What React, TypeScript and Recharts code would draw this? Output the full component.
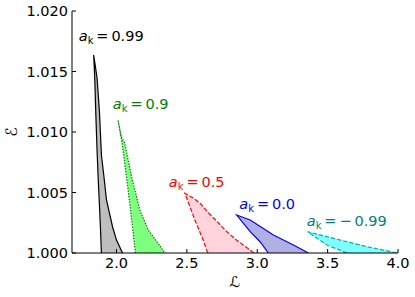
import React from 'react';
import { ComposedChart, Area, XAxis, YAxis, ReferenceDot } from 'recharts';

// outlines: from left foot up the left branch to the cusp, then down the right branch
const blackPts: [number, number][] = [
  [1.893, 1.0], [1.886, 1.00207], [1.879, 1.00397], [1.8705, 1.00603], [1.8619, 1.00851],
  [1.8527, 1.01165], [1.8456, 1.01446], [1.838, 1.01636],
  [1.849, 1.0155], [1.862, 1.01446], [1.879, 1.01165], [1.893, 1.0081], [1.9096, 1.00645],
  [1.929, 1.00438], [1.972, 1.00217], [2.0, 1.00107], [2.043, 1.0],
];
const greenPts: [number, number][] = [
  [2.135, 1.0], [2.0997, 1.00355], [2.071, 1.00631], [2.04, 1.00907], [2.011, 1.01099],
  [2.035, 1.0096], [2.059, 1.00907], [2.107, 1.00631], [2.166, 1.00355], [2.225, 1.0019],
  [2.296, 1.0008], [2.344, 1.0],
];
const redPts: [number, number][] = [
  [2.648, 1.0], [2.616, 1.00107], [2.557, 1.00273], [2.486, 1.00493],
  [2.545, 1.00455], [2.6, 1.00405], [2.65, 1.00335], [2.712, 1.00263], [2.78, 1.0018],
  [2.85, 1.0011], [2.92, 1.0005], [2.977, 1.0],
];
const bluePts: [number, number][] = [
  [3.079, 1.0], [3.02, 1.00093], [2.95, 1.00176], [2.854, 1.00314],
  [2.95, 1.00273], [3.115, 1.00149], [3.257, 1.00066], [3.364, 1.0],
];
const cyanPts: [number, number][] = [
  [3.637, 1.0], [3.495, 1.00066], [3.357, 1.00176],
  [3.542, 1.00121], [3.779, 1.00052], [3.995, 1.0],
];

const spinValues = ['0.99', '0.9', '0.5', '0.0', '\u2212\u20090.99'];
const labelL = [1.732, 1.974, 2.372, 2.873, 3.352];
const labelE = [1.01752, 1.0119, 1.00545, 1.00366, 1.00223];

const xTicks = [2.0, 2.5, 3.0, 3.5, 4.0];
const yTicks = [1.0, 1.005, 1.01, 1.015, 1.02];

const regions = [
  { pts: blackPts, stroke: '#000000', fill: '#bebebe', dash: undefined, text: '#000000' },
  { pts: greenPts, stroke: '#008000', fill: '#7fff7f', dash: '1.4 1.4', text: '#008000' },
  { pts: redPts, stroke: '#ff0000', fill: '#ffd4dc', dash: '4.4 1.9', text: '#ff0000' },
  { pts: bluePts, stroke: '#0000ff', fill: '#b0b0e2', dash: undefined, text: '#0000ff' },
  { pts: cyanPts, stroke: '#00b0b0', fill: '#7fffff', dash: '4.4 1.9', text: '#008080' },
];

const FONT = 'DejaVu Sans';

const rows = (pts: [number, number][]) => pts.map(([L, E]) => ({ L, E }));

function SpinLabel({ cx, cy, value, color }: any) {
  return (
    <text x={cx} y={cy} fill={color} fontFamily={FONT} fontSize={14.5}>
      <tspan fontStyle="italic">a</tspan>
      <tspan fontSize={10} dy={3}>k</tspan>
      <tspan dy={-3}>{'\u2009=\u2009' + value}</tspan>
    </text>
  );
}

export default function App() {
  return (
    <div style={{ position: 'absolute', left: 0, top: 0, background: '#fff' }}>
      <ComposedChart width={415} height={297} margin={{ top: 11, right: 17, bottom: 0, left: 0 }}>
        <XAxis
          dataKey="L" type="number" domain={[1.684, 4]} ticks={xTicks} interval={0} allowDataOverflow
          tickFormatter={(v: number) => v.toFixed(1)} height={44} tickSize={-4} tickMargin={9}
          axisLine={{ stroke: '#000' }} tickLine={{ stroke: '#000' }}
          tick={{ fill: '#000', fontSize: 14.5, fontFamily: FONT }}
          label={({ viewBox }: any) => (
            <text x={viewBox.x + viewBox.width / 2} y={viewBox.y + 34} textAnchor="middle"
              fontFamily={FONT} fontSize={15} fill="#000">ℒ</text>
          )}
        />
        <XAxis xAxisId="top" orientation="top" type="number" domain={[1.684, 4]} allowDataOverflow
          height={0} tick={false} tickLine={false} axisLine={{ stroke: '#000' }} />
        <YAxis
          type="number" domain={[1.0, 1.02]} ticks={yTicks} interval={0} allowDataOverflow
          tickFormatter={(v: number) => v.toFixed(3)} width={72} tickSize={-4} tickMargin={8}
          axisLine={{ stroke: '#000' }} tickLine={{ stroke: '#000' }}
          tick={{ fill: '#000', fontSize: 14.5, fontFamily: FONT }}
          label={({ viewBox }: any) => {
            const x = viewBox.x + 17;
            const y = viewBox.y + viewBox.height / 2;
            return (
              <text x={x} y={y} textAnchor="middle" transform={`rotate(-90, ${x}, ${y})`}
                fontFamily={FONT} fontSize={16} fill="#000">ℰ</text>
            );
          }}
        />
        <YAxis yAxisId="right" orientation="right" type="number" domain={[1.0, 1.02]} allowDataOverflow
          width={0} tick={false} tickLine={false} axisLine={{ stroke: '#000' }} />
        {regions.map((r, i) => (
          <Area key={i} data={rows(r.pts)} dataKey="E" type="linear" baseValue={1.0}
            stroke={r.stroke} strokeWidth={1.2} strokeDasharray={r.dash}
            fill={r.fill} fillOpacity={1} dot={false} activeDot={false} isAnimationActive={false} />
        ))}
        {spinValues.map((v, i) => (
          <ReferenceDot key={v} x={labelL[i]} y={labelE[i]} r={0}
            shape={(p: any) => <SpinLabel cx={p.cx} cy={p.cy} value={v} color={regions[i].text} />} />
        ))}
      </ComposedChart>
    </div>
  );
}
